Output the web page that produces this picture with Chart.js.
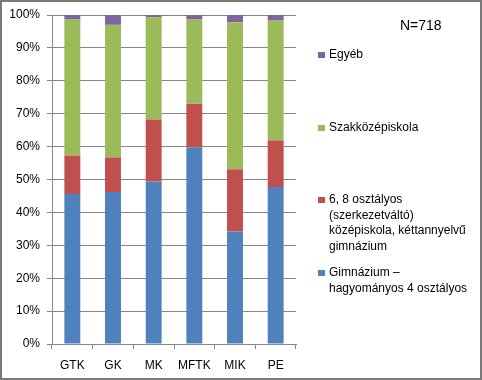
<!DOCTYPE html>
<html>
<head>
<meta charset="utf-8">
<script src="https://cdn.jsdelivr.net/npm/chart.js@4"></script>
<style>
html,body{margin:0;padding:0;background:#fff;}
#wrap{width:482px;height:380px;position:relative;}
</style>
</head>
<body>
<div id="wrap"><canvas id="c" width="482" height="380"></canvas></div>
<script>
const categories = ["GTK", "GK", "MK", "MFTK", "MIK", "PE"];
const gimnazium = [45.6, 46.2, 49.4, 59.8, 34.2, 47.7];
const szerkezetvalto = [11.7, 10.5, 18.8, 13.2, 18.9, 14.2];
const szakkozep = [41.3, 40.3, 31.1, 25.6, 44.7, 36.4];
const egyeb = [1.4, 3.0, 0.7, 1.4, 2.2, 1.7];
const yTicks = [0, 10, 20, 30, 40, 50, 60, 70, 80, 90, 100];
const seriesNames = [
  "Gimnázium – hagyományos 4 osztályos",
  "6, 8 osztályos (szerkezetváltó) középiskola, kéttannyelvű gimnázium",
  "Szakközépiskola",
  "Egyéb"
];
const legendLines = [
  ["Gimnázium –", "hagyományos 4 osztályos"],
  ["6, 8 osztályos", "(szerkezetváltó)", "középiskola, kéttannyelvű", "gimnázium"],
  ["Szakközépiskola"],
  ["Egyéb"]
];
const noteText = "N=718";
const colors = ["#4F81BD", "#C0504D", "#9BBB59", "#8064A2"];
const FONT = "'Liberation Sans', Arial, sans-serif";

const legendPlugin = {
  id: 'customLegend',
  afterDraw(chart) {
    const ctx = chart.ctx;
    ctx.save();
    ctx.fillStyle = '#000';
    ctx.font = "14px " + FONT;
    ctx.textBaseline = 'middle';
    ctx.textAlign = 'left';
    ctx.fillText(noteText, 400, 26);
    const ys = [273, 200, 128, 55];
    ctx.font = "12px " + FONT;
    chart.data.datasets.forEach((ds, i) => {
      const y0 = ys[i];
      ctx.fillStyle = ds.backgroundColor;
      ctx.fillRect(318, y0 - 3, 7, 6);
      ctx.fillStyle = '#000';
      legendLines[i].forEach((ln, k) => {
        ctx.fillText(ln, 329, y0 + k * 15.5);
      });
    });
    ctx.strokeStyle = '#7a7a7a';
    ctx.lineWidth = 2;
    ctx.strokeRect(1, 1, 480, 378);
    ctx.restore();
  }
};

new Chart(document.getElementById('c'), {
  type: 'bar',
  data: {
    labels: categories,
    datasets: [
      { label: seriesNames[0], data: gimnazium, backgroundColor: colors[0] },
      { label: seriesNames[1], data: szerkezetvalto, backgroundColor: colors[1] },
      { label: seriesNames[2], data: szakkozep, backgroundColor: colors[2] },
      { label: seriesNames[3], data: egyeb, backgroundColor: colors[3] }
    ]
  },
  options: {
    responsive: false,
    animation: false,
    devicePixelRatio: 1,
    layout: { padding: { top: 15, left: 0, right: 186, bottom: 0 } },
    datasets: { bar: { barPercentage: 0.8, categoryPercentage: 0.49, borderWidth: 0 } },
    plugins: { legend: { display: false }, tooltip: { enabled: false } },
    scales: {
      x: {
        stacked: true,
        grid: { offset: true, drawOnChartArea: false, drawTicks: true, tickLength: 5, color: '#868686' },
        border: { display: true, color: '#868686' },
        ticks: { color: '#000', font: { family: FONT, size: 12 }, padding: 9 },
        afterFit(s) { s.height = 36; }
      },
      y: {
        stacked: true,
        min: 0, max: 100,
        afterBuildTicks(s) { s.ticks = yTicks.map(v => ({ value: v })); },
        grid: { color: '#868686', tickLength: 5 },
        border: { display: true, color: '#868686' },
        ticks: { color: '#000', font: { family: FONT, size: 12 }, padding: 7, callback: v => v + '%' },
        afterFit(s) { s.width = 52; }
      }
    }
  },
  plugins: [legendPlugin]
});
</script>
</body>
</html>
